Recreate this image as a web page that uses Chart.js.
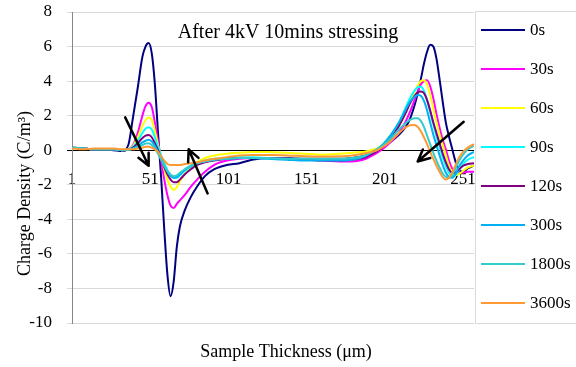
<!DOCTYPE html>
<html>
<head>
<meta charset="utf-8">
<script src="https://cdn.jsdelivr.net/npm/chart.js@4/dist/chart.umd.min.js"></script>
<style>
  body { margin: 0; background: #fff; }
  #wrap { width: 576px; height: 367px; }
</style>
</head>
<body>
<div id="wrap"><canvas id="graph" width="576" height="367"></canvas></div>
<script>
// sample position (μm)
const thickness = [1, 8, 15, 22, 28, 33, 37, 40, 43, 46, 48, 50, 52, 54, 56, 58, 60, 62, 64, 66,
  68, 70, 73, 77, 81, 86, 92, 100, 108, 116, 126, 138, 150, 162, 172, 180, 187, 192, 196, 200,
  205, 210, 214, 217, 220, 222, 224, 226, 228, 230, 232, 234, 236, 238, 240, 242, 244, 246, 248, 251,
  254, 258];
const xTicks = [1, 51, 101, 151, 201, 251];

const seriesLabels = ['0s', '30s', '60s', '90s', '120s', '300s', '1800s', '3600s'];
const seriesColors = ['#000080', '#ff00ff', '#ffff00', '#00ffff', '#800080', '#00b0f0', '#33cccc', '#ff9933'];

// charge density (C/m3)
const d0s = [0.15, 0.1, 0.05, 0.05, 0.0, -0.05, 0.3, 1.9, 3.6, 5.4, 6.0, 6.2, 5.6, 3.8, 1.0, -1.6, -4.6, -7.2, -8.45, -7.6,
  -5.6, -4.4, -3.5, -2.7, -2.1, -1.5, -1.1, -0.85, -0.75, -0.55, -0.45, -0.45, -0.5, -0.5, -0.5, -0.45, -0.35, -0.2, -0.05, 0.15,
  0.5, 0.9, 1.3, 1.8, 2.6, 3.3, 4.1, 5.0, 5.7, 6.1, 6.0, 5.3, 4.1, 2.8, 1.6, 0.8, 0.1, -0.6, -1.1, -1.25,
  -1.05, -0.9];
const d30s = [0.15, 0.1, 0.05, 0.05, 0.05, 0.0, 0.05, 0.3, 1.0, 2.0, 2.55, 2.75, 2.5, 1.6, 0.5, -0.6, -1.7, -2.6, -3.2, -3.35,
  -3.1, -2.9, -2.6, -2.1, -1.7, -1.25, -0.85, -0.6, -0.5, -0.45, -0.45, -0.5, -0.55, -0.6, -0.65, -0.65, -0.55, -0.35, -0.15, 0.1,
  0.5, 1.0, 1.6, 2.2, 2.9, 3.4, 3.8, 4.0, 4.05, 3.7, 3.0, 2.1, 1.3, 0.6, 0.05, -0.6, -1.05, -1.25, -1.3, -1.3,
  -1.25, -1.25];
const d60s = [0.15, 0.1, 0.05, 0.05, 0.05, 0.0, 0.05, 0.25, 0.75, 1.4, 1.75, 1.9, 1.75, 1.1, 0.3, -0.4, -1.1, -1.7, -2.1, -2.3,
  -2.15, -1.8, -1.4, -1.0, -0.7, -0.45, -0.3, -0.2, -0.15, -0.1, -0.1, -0.15, -0.2, -0.25, -0.2, -0.15, -0.1, 0.0, 0.1, 0.35,
  0.8, 1.4, 2.1, 2.8, 3.4, 3.75, 4.0, 4.05, 3.8, 3.2, 2.4, 1.6, 0.9, 0.3, -0.3, -0.9, -1.3, -1.45, -1.4, -1.2,
  -1.0, -0.9];
const d90s = [0.15, 0.1, 0.05, 0.05, 0.05, 0.0, 0.05, 0.2, 0.55, 1.0, 1.25, 1.33, 1.2, 0.75, 0.2, -0.3, -0.75, -1.15, -1.45, -1.6,
  -1.6, -1.45, -1.2, -0.95, -0.75, -0.6, -0.5, -0.45, -0.4, -0.4, -0.45, -0.5, -0.55, -0.55, -0.55, -0.5, -0.4, -0.15, 0.05, 0.35,
  0.9, 1.6, 2.4, 3.0, 3.45, 3.65, 3.68, 3.45, 2.9, 2.2, 1.5, 0.8, 0.2, -0.4, -0.9, -1.3, -1.5, -1.45, -1.2, -0.8,
  -0.55, -0.4];
const d120s = [0.15, 0.1, 0.05, 0.05, 0.05, 0.0, 0.03, 0.15, 0.4, 0.7, 0.85, 0.88, 0.75, 0.4, 0.0, -0.5, -1.0, -1.4, -1.7, -1.85,
  -1.85, -1.7, -1.4, -1.1, -0.85, -0.7, -0.6, -0.5, -0.45, -0.45, -0.45, -0.5, -0.55, -0.6, -0.6, -0.55, -0.45, -0.25, -0.05, 0.2,
  0.7, 1.4, 2.1, 2.7, 3.15, 3.35, 3.4, 3.3, 2.9, 2.3, 1.6, 1.0, 0.4, -0.2, -0.7, -1.1, -1.3, -1.3, -1.15, -0.9,
  -0.8, -0.75];
const d300s = [0.15, 0.1, 0.05, 0.05, 0.05, 0.0, 0.02, 0.1, 0.25, 0.45, 0.55, 0.6, 0.5, 0.25, -0.1, -0.5, -0.9, -1.25, -1.5, -1.6,
  -1.55, -1.4, -1.15, -0.9, -0.75, -0.65, -0.55, -0.5, -0.45, -0.45, -0.5, -0.55, -0.6, -0.6, -0.6, -0.55, -0.4, -0.15, 0.05, 0.35,
  0.9, 1.6, 2.3, 2.8, 3.1, 3.2, 3.15, 2.85, 2.3, 1.6, 0.9, 0.3, -0.3, -0.85, -1.3, -1.55, -1.6, -1.4, -1.0, -0.6,
  -0.3, -0.1];
const d1800s = [0.15, 0.1, 0.05, 0.05, 0.05, 0.0, 0.02, 0.08, 0.18, 0.3, 0.38, 0.4, 0.3, 0.1, -0.2, -0.55, -0.9, -1.2, -1.4, -1.5,
  -1.45, -1.3, -1.1, -0.9, -0.75, -0.65, -0.55, -0.5, -0.45, -0.45, -0.45, -0.5, -0.5, -0.5, -0.5, -0.45, -0.35, -0.15, 0.05, 0.3,
  0.7, 1.2, 1.55, 1.75, 1.85, 1.85, 1.7, 1.35, 0.85, 0.35, -0.15, -0.6, -1.0, -1.35, -1.55, -1.6, -1.45, -1.1, -0.7, -0.25,
  0.05, 0.25];
const d3600s = [0.1, 0.05, 0.1, 0.1, 0.1, 0.05, 0.05, 0.05, 0.1, 0.15, 0.2, 0.2, 0.15, 0.05, -0.1, -0.35, -0.6, -0.8, -0.85, -0.85,
  -0.85, -0.85, -0.8, -0.75, -0.7, -0.6, -0.5, -0.4, -0.3, -0.27, -0.28, -0.3, -0.35, -0.37, -0.35, -0.3, -0.2, -0.1, 0.0, 0.2,
  0.55, 1.0, 1.3, 1.45, 1.46, 1.35, 1.1, 0.75, 0.35, -0.1, -0.5, -0.9, -1.25, -1.55, -1.7, -1.6, -1.3, -0.9, -0.5, -0.1,
  0.15, 0.35];
const seriesValues = [d0s, d30s, d60s, d90s, d120s, d300s, d1800s, d3600s];

// arrows, in data units: [x from, y from, x to, y to]
const arrows = [[35, 1.9, 50, -0.9], [87.7, -2.5, 75.6, 0.05], [251.4, 1.65, 222, -0.65]];

const serif = '"Liberation Serif", "Times New Roman", serif';
Chart.defaults.font.family = serif;
Chart.defaults.color = '#000';

const overlay = {
  id: 'overlay',
  afterDatasetsDraw(chart) {
    const {ctx, scales: {x, y}} = chart;
    ctx.save();
    ctx.strokeStyle = '#000';
    ctx.lineWidth = 2.5;
    ctx.lineCap = 'round';
    arrows.forEach(([x1, y1, x2, y2]) => {
      const p1 = [x.getPixelForValue(x1), y.getPixelForValue(y1)];
      const p2 = [x.getPixelForValue(x2), y.getPixelForValue(y2)];
      const ang = Math.atan2(p2[1] - p1[1], p2[0] - p1[0]);
      ctx.beginPath();
      ctx.moveTo(p1[0], p1[1]);
      ctx.lineTo(p2[0], p2[1]);
      [-0.45, 0.45].forEach(d => {
        ctx.moveTo(p2[0], p2[1]);
        ctx.lineTo(p2[0] - 13 * Math.cos(ang + d), p2[1] - 13 * Math.sin(ang + d));
      });
      ctx.stroke();
    });
    ctx.restore();
  },
  afterDraw(chart) {
    const {ctx, chartArea: a, width} = chart;
    ctx.save();
    ctx.fillStyle = '#000';
    // titles
    ctx.textAlign = 'center';
    ctx.textBaseline = 'middle';
    ctx.font = '20px ' + serif;
    ctx.fillText('After 4kV 10mins stressing', width / 2, a.top + 21);
    ctx.font = '18px ' + serif;
    ctx.fillText('Sample Thickness (μm)', width / 2 - 2, a.bottom + 29);
    ctx.save();
    ctx.translate(a.left - 47, (a.top + a.bottom) / 2 + 26);
    ctx.rotate(-Math.PI / 2);
    ctx.fillText('Charge Density (C/m³)', 0, 0);
    ctx.restore();
    // legend
    const lx = a.right + 1, ly = a.top - 1;
    ctx.strokeStyle = '#d9d9d9';
    ctx.lineWidth = 1;
    ctx.strokeRect(lx + 0.5, ly + 0.5, 200, a.bottom - ly);
    ctx.textAlign = 'left';
    ctx.font = '17px ' + serif;
    chart.data.datasets.forEach((ds, i) => {
      const yy = ly + 19 + i * 39;
      ctx.strokeStyle = ds.borderColor;
      ctx.lineWidth = 2;
      ctx.beginPath();
      ctx.moveTo(lx + 6, yy);
      ctx.lineTo(lx + 50, yy);
      ctx.stroke();
      ctx.fillText(ds.label, lx + 55, yy + 1);
    });
    ctx.restore();
  }
};

new Chart(document.getElementById('graph'), {
  type: 'line',
  data: {
    datasets: seriesValues.map((vals, i) => ({
      label: seriesLabels[i],
      data: vals.map((v, j) => ({x: thickness[j], y: v})),
      borderColor: seriesColors[i],
      backgroundColor: seriesColors[i],
      borderWidth: 2,
      pointRadius: 0,
      cubicInterpolationMode: 'monotone',
      order: seriesValues.length - 1 - i
    }))
  },
  options: {
    responsive: false,
    animation: false,
    devicePixelRatio: 1,
    layout: { padding: { top: 12, right: 102, bottom: 44, left: 0 } },
    plugins: { legend: { display: false }, tooltip: { enabled: false } },
    scales: {
      x: {
        type: 'linear',
        position: { y: 0 },
        min: 1,
        max: 258,
        afterBuildTicks: s => { s.ticks = xTicks.map(v => ({ value: v })); },
        grid: { display: false, drawTicks: false },
        border: { display: false },
        ticks: { font: { size: 17 }, padding: 19, maxRotation: 0, autoSkip: false }
      },
      y: {
        min: -10,
        max: 8,
        afterFit: s => { s.width = 72; s.paddingTop = 0; s.paddingBottom = 0; },
        ticks: { stepSize: 2, font: { size: 17 }, padding: 15 },
        grid: {
          color: c => (c.tick && c.tick.value === 0 ? '#000' : '#d9d9d9'),
          tickLength: 5
        },
        border: { color: '#868686' }
      }
    }
  },
  plugins: [overlay]
});
</script>
</body>
</html>
